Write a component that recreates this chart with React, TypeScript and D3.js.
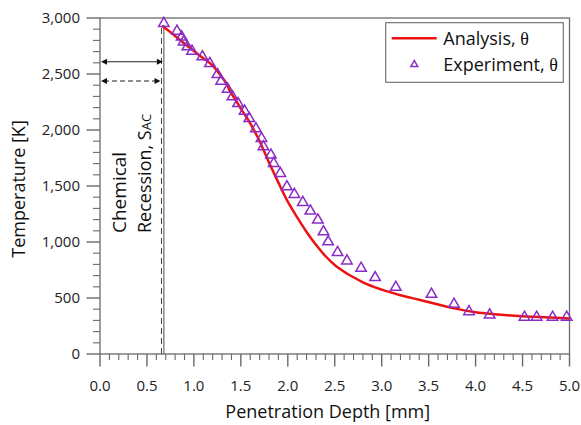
import React from "react";
import * as d3 from "d3";

// Analysis (red line)
const analysisDepth = [0.66, 0.8, 0.9, 1.0, 1.1, 1.2, 1.3, 1.35, 1.38, 1.45, 1.5, 1.6, 1.7, 1.8, 1.9, 2.0, 2.1, 2.2, 2.3, 2.4, 2.5, 2.6, 2.7, 2.8, 3.0, 3.2, 3.4, 3.6, 3.8, 4.0, 4.2, 4.5, 4.8, 5.0];
const analysisTemp = [2930, 2840, 2770, 2705, 2640, 2575, 2470, 2410, 2355, 2260, 2190, 2060, 1900, 1710, 1530, 1360, 1220, 1090, 975, 875, 795, 735, 685, 640, 575, 525, 484, 442, 403, 373, 355, 337, 325, 318];

// Experiment (triangles)
const expDepth = [0.68, 0.82, 0.87, 0.89, 0.93, 0.98, 1.09, 1.17, 1.25, 1.29, 1.36, 1.41, 1.47, 1.54, 1.59, 1.66, 1.72, 1.74, 1.82, 1.85, 1.92, 1.99, 2.07, 2.16, 2.24, 2.32, 2.38, 2.43, 2.53, 2.63, 2.78, 2.93, 3.15, 3.53, 3.77, 3.93, 4.15, 4.52, 4.65, 4.82, 4.97];
const expTemp = [2965, 2896, 2845, 2800, 2756, 2717, 2667, 2607, 2509, 2450, 2378, 2310, 2250, 2182, 2116, 2025, 1938, 1864, 1790, 1715, 1626, 1507, 1439, 1367, 1290, 1210, 1105, 1015, 920, 845, 779, 696, 609, 547, 458, 392, 363, 342, 342, 342, 342];

const xTicks = [0, 0.5, 1, 1.5, 2, 2.5, 3, 3.5, 4, 4.5, 5];
const yTicks = [0, 500, 1000, 1500, 2000, 2500, 3000];
const recessionSolid = 0.68;
const recessionDashed = 0.655;

const FONT = "'Open Sans', 'Noto Sans', sans-serif";
const AXIS = "#6a6a6a";
const RED = "#ee1111";
const PURPLE = "#8a2cc4";

function tri(cx: number, cy: number, s: number) {
  const h = s * 0.866;
  return `M${cx},${cy - h / 2}L${cx + s / 2},${cy + h / 2}L${cx - s / 2},${cy + h / 2}Z`;
}

export default function App() {
  const x = d3.scaleLinear().domain([0, 5]).range([100, 569.5]);
  const y = d3.scaleLinear().domain([0, 3000]).range([354, 18]);
  const line = d3
    .line<number>()
    .x((_, i) => x(analysisDepth[i]))
    .y((d) => y(d))
    .curve(d3.curveMonotoneX);

  const xMinor = d3.range(0, 51).map((i) => i / 10);
  const yMinor = d3.range(0, 31).map((i) => i * 100);
  const fmt = d3.format(",");

  const yArrowSolid = 61.7;
  const yArrowDash = 81;
  const ah = (xp: number, yp: number, dir: number) =>
    `M${xp},${yp}L${xp - dir * 6},${yp - 3}L${xp - dir * 6},${yp + 3}Z`;

  return (
    <svg width={581} height={425} style={{ position: "absolute", left: 0, top: 0, background: "#fff" }} fontFamily={FONT}>
      {/* frame */}
      <rect x={x(0)} y={y(3000)} width={x(5) - x(0)} height={y(0) - y(3000)} fill="none" stroke={AXIS} strokeWidth={1.3} />
      {/* x ticks */}
      {xMinor.map((t, i) => (
        <line key={"xm" + i} x1={x(t)} x2={x(t)} y1={y(0)} y2={y(0) + (i % 5 === 0 ? 12.5 : 6)} stroke={AXIS} strokeWidth={i % 5 === 0 ? 1.4 : 1.1} />
      ))}
      {xTicks.map((t) => (
        <text key={"xl" + t} x={x(t)} y={391} textAnchor="middle" fontSize={15} fill="#222">
          {t.toFixed(1)}
        </text>
      ))}
      {/* y ticks */}
      {yMinor.map((t, i) => (
        <line key={"ym" + i} x1={x(0) - (i % 5 === 0 ? 13.5 : 7)} x2={x(0)} y1={y(t)} y2={y(t)} stroke={AXIS} strokeWidth={i % 5 === 0 ? 1.4 : 1.1} />
      ))}
      {yTicks.map((t) => (
        <text key={"yl" + t} x={80} y={y(t)} dy="0.36em" textAnchor="end" fontSize={15} fill="#222">
          {fmt(t)}
        </text>
      ))}
      {/* axis titles */}
      <text x={(x(0) + x(5)) / 2 - 7} y={418} textAnchor="middle" fontSize={18} fill="#111">
        Penetration Depth [mm]
      </text>
      <text transform={`translate(25,189) rotate(-90)`} textAnchor="middle" fontSize={18} fill="#111">
        Temperature [K]
      </text>

      {/* recession lines */}
      <line x1={x(recessionSolid)} x2={x(recessionSolid)} y1={25} y2={y(0)} stroke={AXIS} strokeWidth={1.2} />
      <line x1={x(recessionDashed)} x2={x(recessionDashed)} y1={28} y2={y(0)} stroke="#444" strokeWidth={1} strokeDasharray="6,4" />
      {/* arrows */}
      <line x1={x(0) + 4} x2={x(recessionSolid) - 4} y1={yArrowSolid} y2={yArrowSolid} stroke="#222" strokeWidth={1.1} />
      <path d={ah(x(0) + 1, yArrowSolid, -1)} fill="#111" />
      <path d={ah(x(recessionSolid) - 1, yArrowSolid, 1)} fill="#111" />
      <line x1={x(0) + 4} x2={x(recessionDashed) - 4} y1={yArrowDash} y2={yArrowDash} stroke="#222" strokeWidth={1.1} strokeDasharray="5,3" />
      <path d={ah(x(0) + 1, yArrowDash, -1)} fill="#111" />
      <path d={ah(x(recessionDashed) - 1, yArrowDash, 1)} fill="#111" />
      {/* annotation */}
      <text transform="translate(126,233) rotate(-90)" fontSize={19} fill="#111">
        Chemical
      </text>
      <text transform="translate(151,233) rotate(-90)" fontSize={18} fill="#111">
        Recession, S<tspan fontSize={13}>AC</tspan>
      </text>

      {/* analysis line */}
      <path d={line(analysisTemp) || ""} fill="none" stroke={RED} strokeWidth={2.5} />
      {/* experiment markers */}
      {expTemp.map((t, i) => (
        <path key={"e" + i} d={tri(x(expDepth[i]), y(t), 10.5)} fill="none" stroke={PURPLE} strokeWidth={1.5} />
      ))}

      {/* legend */}
      <rect x={385.7} y={22.7} width={177.6} height={59.6} fill="#fff" stroke={AXIS} strokeWidth={1.1} />
      <line x1={391.7} x2={436.7} y1={38.3} y2={38.3} stroke={RED} strokeWidth={2.5} />
      <text x={443.3} y={45} fontSize={18} fill="#111">
        Analysis, <tspan fontFamily="'Liberation Serif', serif">θ</tspan>
      </text>
      <path d={tri(414.3, 63.5, 7)} fill="none" stroke={PURPLE} strokeWidth={1.4} />
      <text x={443.3} y={71} fontSize={18} fill="#111">
        Experiment, <tspan fontFamily="'Liberation Serif', serif">θ</tspan>
      </text>
    </svg>
  );
}
